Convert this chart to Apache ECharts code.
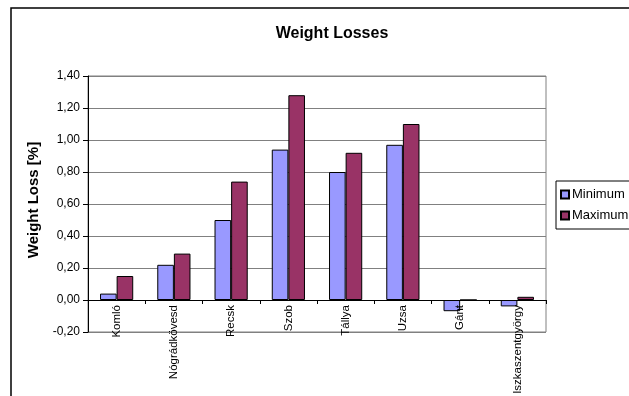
<!DOCTYPE html>
<html>
<head>
<meta charset="utf-8">
<script src="https://cdn.jsdelivr.net/npm/echarts@6/dist/echarts.min.js"></script>
<style>
  html, body { margin: 0; padding: 0; background: #fff; }
  #chart { width: 629px; height: 396px; }
</style>
</head>
<body>
<div id="chart"></div>
<script>
// Sites and measured weight losses (%)
const sites = ['Komló', 'Nógrádkövesd', 'Recsk', 'Szob', 'Tállya', 'Uzsa', 'Gánt', 'Iszkaszentgyörgy'];
const minimumLoss = [0.04, 0.22, 0.50, 0.94, 0.80, 0.97, -0.07, -0.04];
const maximumLoss = [0.15, 0.29, 0.74, 1.28, 0.92, 1.10, 0.00, 0.02];

const fontFamily = '"Liberation Sans", Arial, sans-serif';
const chart = echarts.init(document.getElementById('chart'));

chart.setOption({
  animation: false,
  backgroundColor: '#ffffff',
  textStyle: { fontFamily: fontFamily },
  graphic: [{
    type: 'rect',
    shape: { x: 11, y: 8, width: 700, height: 500 },
    style: { fill: 'none', stroke: '#000', lineWidth: 1.5 },
    silent: true
  }],
  title: {
    text: 'Weight Losses',
    left: 327,
    top: 21,
    textAlign: 'center',
    textStyle: { fontSize: 16, fontWeight: 'bold', color: '#000', fontFamily: fontFamily }
  },
  legend: {
    orient: 'vertical',
    left: 556,
    top: 181,
    itemWidth: 8,
    itemHeight: 8,
    itemGap: 8,
    padding: [7, 20, 7, 4],
    borderColor: '#000',
    borderWidth: 1,
    icon: 'rect',
    textStyle: { fontSize: 13, color: '#000', fontFamily: fontFamily, padding: [0, 0, 0, -2] },
    data: ['Minimum', 'Maximum']
  },
  grid: {
    left: 88,
    top: 76,
    width: 458,
    height: 256,
    outerBoundsMode: 'none',
    containLabel: false,
    show: true,
    borderColor: '#808080',
    borderWidth: 1
  },
  xAxis: {
    type: 'category',
    data: sites,
    z: 3,
    axisLine: { onZero: true, lineStyle: { color: '#000', width: 1 } },
    axisTick: { show: true, length: 4, lineStyle: { color: '#000' } },
    axisLabel: {
      rotate: 90,
      fontSize: 11.5,
      color: '#000',
      margin: -27,
      interval: 0,
      fontFamily: fontFamily
    }
  },
  yAxis: {
    type: 'value',
    min: -0.2,
    max: 1.4,
    interval: 0.2,
    name: 'Weight Loss [%]',
    nameLocation: 'middle',
    nameGap: 47,
    nameTextStyle: { fontSize: 15, fontWeight: 'bold', color: '#000', fontFamily: fontFamily, padding: [0, 0, 0, 8] },
    axisLine: { show: true, lineStyle: { color: '#000', width: 1 } },
    axisTick: { show: true, length: 5, lineStyle: { color: '#000' } },
    axisLabel: {
      fontSize: 12,
      color: '#000',
      margin: 8,
      fontFamily: fontFamily,
      formatter: function (v) { return v.toFixed(2).replace('.', ','); }
    },
    splitLine: { show: true, lineStyle: { color: '#808080', width: 1 } }
  },
  series: [
    {
      name: 'Minimum',
      type: 'bar',
      data: minimumLoss,
      barGap: '0%',
      barCategoryGap: '42%',
      itemStyle: { color: '#9999FF', borderColor: '#000', borderWidth: 1 }
    },
    {
      name: 'Maximum',
      type: 'bar',
      data: maximumLoss,
      barGap: '0%',
      barCategoryGap: '42%',
      itemStyle: { color: '#993366', borderColor: '#000', borderWidth: 1 }
    }
  ]
});
</script>
</body>
</html>
